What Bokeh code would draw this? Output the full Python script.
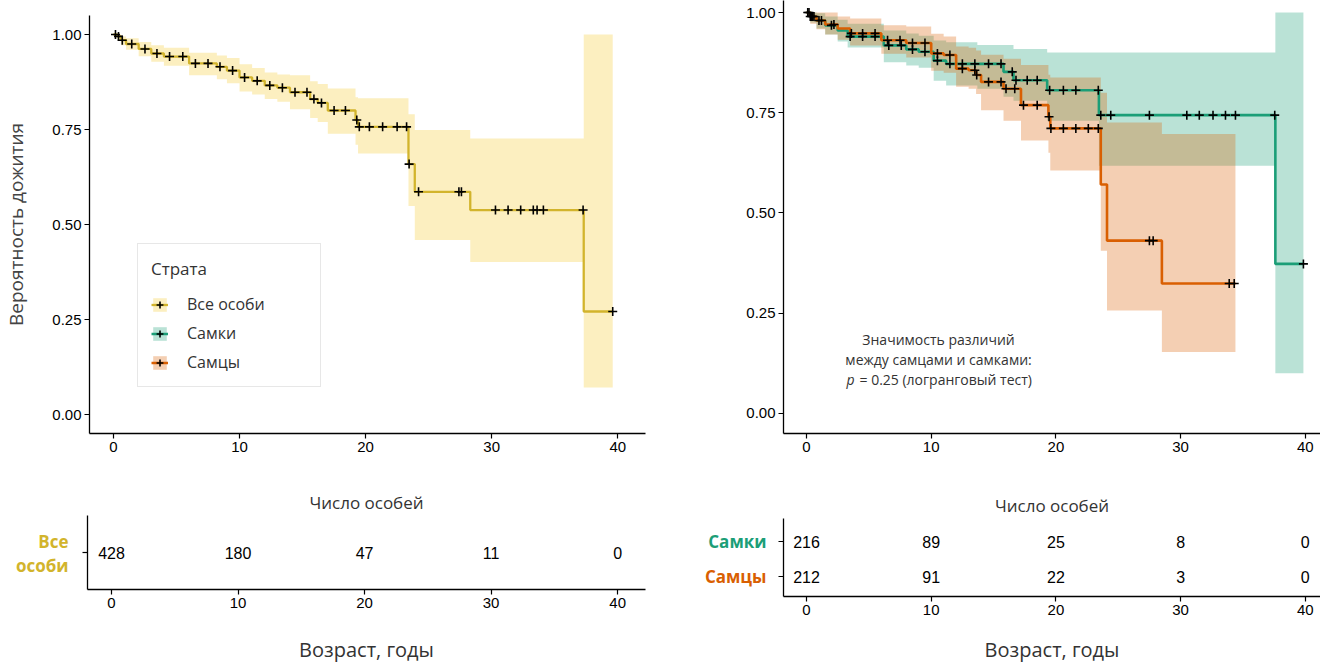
import numpy as np
from bokeh.plotting import figure
from bokeh.models import (Range1d, Legend, LegendItem, ColumnDataSource, FixedTicker, Label,
                          NumeralTickFormatter, CustomJSTickFormatter)
from bokeh.layouts import row, column
from bokeh.embed import file_html
from bokeh.resources import INLINE
from bokeh.core.properties import value

# ---------------- data ----------------
# All individuals (Все особи): step times, survival, CI upper, CI lower
all_t = [0, 0.3, 0.6, 1.0, 2.0, 3.0, 4.0, 6.0, 8.2, 9.0, 10.0, 11.0, 12.0, 13.0, 14.0,
         15.6, 16.2, 17.0, 19.2, 19.4, 23.4, 23.9, 28.3, 37.3]
all_s = [1.0, 0.995, 0.985, 0.975, 0.962, 0.950, 0.942, 0.924, 0.915, 0.905, 0.887, 0.878,
         0.866, 0.860, 0.848, 0.830, 0.820, 0.800, 0.775, 0.757, 0.659, 0.586, 0.538, 0.271]
all_up = [1.0, 1.0, 0.995, 0.99, 0.98, 0.972, 0.965, 0.952, 0.945, 0.938, 0.922, 0.912,
          0.90, 0.895, 0.893, 0.877, 0.87, 0.858, 0.835, 0.832, 0.79, 0.749, 0.726, 1.0]
all_lo = [1.0, 0.985, 0.972, 0.96, 0.943, 0.928, 0.918, 0.893, 0.882, 0.872, 0.85, 0.842,
          0.83, 0.823, 0.803, 0.78, 0.77, 0.739, 0.71, 0.687, 0.549, 0.459, 0.401, 0.071]
all_end = 39.6
all_cens = [0.16, 0.4, 0.7, 1.45, 2.5, 3.45, 4.45, 5.5, 6.5, 7.5, 8.45, 9.45, 10.4, 11.4,
            12.4, 13.4, 14.4, 15.35, 15.9, 16.5, 17.5, 18.4, 19.3, 19.5, 20.3, 21.35, 22.5,
            23.25, 23.45, 24.2, 27.4, 27.6, 30.3, 31.3, 32.3, 33.3, 33.6, 34.1, 37.25, 39.6]

# Females (Самки)
f_t = [0, 0.3, 0.8, 1.5, 2.5, 3.3, 6.2, 8.0, 9.0, 10.2, 11.2, 13.7, 15.8, 16.6, 19.3, 23.45, 37.6]
f_s = [1.0, 0.99, 0.98, 0.968, 0.955, 0.940, 0.918, 0.908, 0.902, 0.880, 0.872, 0.872,
       0.852, 0.831, 0.806, 0.744, 0.373]
f_up = [1.0, 1.0, 0.998, 0.99, 0.982, 0.972, 0.955, 0.948, 0.942, 0.93, 0.926, 0.919,
        0.919, 0.909, 0.90, 0.90, 1.0]
f_lo = [1.0, 0.975, 0.96, 0.945, 0.928, 0.913, 0.876, 0.868, 0.862, 0.83, 0.818, 0.81,
        0.79, 0.78, 0.73, 0.618, 0.10]
f_end = 39.85
f_cens = [0.1, 0.3, 0.5, 1.0, 2.0, 3.5, 4.5, 5.5, 6.6, 7.6, 8.5, 9.5, 10.5, 11.5, 12.5,
          13.5, 14.6, 15.6, 16.5, 16.8, 17.7, 18.5, 19.5, 20.6, 21.6, 23.4, 23.6, 24.4,
          27.5, 30.5, 31.5, 32.6, 33.6, 34.4, 37.55, 39.85]

# Males (Самцы)
m_t = [0, 0.3, 0.8, 1.5, 2.5, 3.5, 6.0, 8.0, 10.0, 11.0, 12.0, 13.0, 13.6, 14.0, 15.8,
       17.2, 19.4, 19.55, 23.6, 24.1, 28.5]
m_s = [1.0, 0.99, 0.98, 0.97, 0.96, 0.948, 0.931, 0.924, 0.898, 0.894, 0.860, 0.856,
       0.844, 0.827, 0.81, 0.769, 0.74, 0.711, 0.571, 0.431, 0.324]
m_up = [1.0, 1.0, 1.0, 1.0, 0.99, 0.985, 0.968, 0.965, 0.947, 0.94, 0.915, 0.912, 0.905,
        0.895, 0.885, 0.869, 0.845, 0.838, 0.80, 0.726, 0.697]
m_lo = [1.0, 0.972, 0.958, 0.945, 0.932, 0.918, 0.897, 0.888, 0.855, 0.85, 0.815, 0.81,
        0.797, 0.756, 0.73, 0.681, 0.65, 0.606, 0.406, 0.257, 0.153]
m_end = 34.4
m_cens = [0.2, 0.4, 0.6, 1.2, 2.2, 3.6, 4.5, 5.5, 6.5, 7.5, 8.5, 9.5, 10.5, 11.5, 12.5,
          13.5, 13.65, 14.6, 15.6, 16.0, 16.7, 17.4, 18.5, 19.45, 19.6, 20.6, 21.6, 22.6,
          23.4, 27.5, 27.8, 33.9, 34.3]

# Number at risk
risk_times = [0, 10, 20, 30, 40]
risk_all = [428, 180, 47, 11, 0]
risk_f = [216, 89, 25, 8, 0]
risk_m = [212, 91, 22, 3, 0]

x_ticks = [0, 10, 20, 30, 40]
y_ticks = [0.0, 0.25, 0.5, 0.75, 1.0]

# ---------------- styles ----------------
COL_ALL_LINE = "#D2B42C"
COL_ALL_FILL = "#FCEFC0"
COL_F = "#1B9E77"
COL_M = "#D95F02"
TXT = "#333333"
FONT = "Open Sans"
NUMFONT = "Liberation Sans"


def curve_source(t, s, up, lo, t_end):
    return ColumnDataSource(dict(x=list(t) + [t_end], s=list(s) + [s[-1]],
                                 u=list(up) + [up[-1]], l=list(lo) + [lo[-1]]))


def cens_y(t, s, cens):
    idx = np.searchsorted(np.array(t), np.array(cens), side="right") - 1
    return [s[i] for i in idx]


def base_style(p):
    p.xgrid.visible = False
    p.ygrid.visible = False
    p.outline_line_color = None
    p.background_fill_color = "white"
    p.border_fill_color = "white"


def style_axes(p):
    base_style(p)
    for ax in p.axis:
        ax.axis_line_color = "black"
        ax.axis_line_width = 1.3
        ax.major_tick_line_color = "black"
        ax.major_tick_line_width = 1.2
        ax.major_tick_out = 5
        ax.major_tick_in = 0
        ax.minor_tick_line_color = None
        ax.major_label_text_font = NUMFONT
        ax.major_label_text_font_size = "15px"
        ax.major_label_text_color = "black"
        ax.major_label_standoff = 3
    p.xaxis.ticker = FixedTicker(ticks=x_ticks)


def label(p, x, y, text, size, color=TXT, align="center", baseline="middle", style="normal"):
    p.add_layout(Label(x=x, y=y, text=text, text_font=FONT, text_font_size=size,
                       text_color=color, text_align=align, text_baseline=baseline,
                       text_font_style=style))


def cross(p, x, y):
    return p.scatter(x=x, y=y, marker="cross", size=9, line_color="black", line_width=1.6)


# ---------------- left survival plot ----------------
p1 = figure(width=660, height=463, x_range=Range1d(-1.9, 42.2), y_range=Range1d(-0.05, 1.05),
            output_backend="svg", toolbar_location=None,
            min_border_left=87, min_border_right=15, min_border_top=15, min_border_bottom=30)
style_axes(p1)
p1.yaxis.ticker = FixedTicker(ticks=y_ticks)
p1.yaxis.formatter = NumeralTickFormatter(format="0.00")
p1.yaxis.axis_label = "Вероятность дожития"
p1.yaxis.axis_label_text_font = FONT
p1.yaxis.axis_label_text_font_size = "19px"
p1.yaxis.axis_label_text_font_style = "normal"
p1.yaxis.axis_label_text_color = "#444444"
p1.yaxis.axis_label_standoff = 20

src_all = curve_source(all_t, all_s, all_up, all_lo, all_end)
band_all = p1.varea_step(x="x", y1="l", y2="u", step_mode="after", source=src_all,
                         fill_color=COL_ALL_FILL, fill_alpha=1.0)
line_all = p1.step(x="x", y="s", mode="after", source=src_all, line_color=COL_ALL_LINE,
                   line_width=2.3)
cens_all = cross(p1, all_cens, cens_y(all_t, all_s, all_cens))

# legend proxies for the sex strata (placed outside the visible range)
proxy_x = [100, 101]
fb = p1.varea(x=proxy_x, y1=[2, 2], y2=[3, 3], fill_color=COL_F, fill_alpha=0.3)
fl = p1.line(x=proxy_x, y=[2, 2], line_color=COL_F, line_width=2.5)
fc = cross(p1, proxy_x, [2, 2])
mb = p1.varea(x=proxy_x, y1=[2, 2], y2=[3, 3], fill_color=COL_M, fill_alpha=0.3)
ml = p1.line(x=proxy_x, y=[2, 2], line_color=COL_M, line_width=2.5)
mc = cross(p1, proxy_x, [2, 2])

legend = Legend(items=[LegendItem(label="Все особи", renderers=[band_all, line_all, cens_all]),
                       LegendItem(label="Самки", renderers=[fb, fl, fc]),
                       LegendItem(label="Самцы", renderers=[mb, ml, mc])],
                location=(48, 46), title="Страта")
legend.title_text_font = FONT
legend.title_text_font_size = "17px"
legend.title_text_font_style = "normal"
legend.title_text_color = TXT
legend.title_standoff = 13
legend.label_text_font = FONT
legend.label_text_font_size = "16px"
legend.label_text_color = TXT
legend.border_line_color = "#d0d0d0"
legend.border_line_width = 1
legend.background_fill_color = "white"
legend.padding = 13
legend.glyph_width = 17
legend.glyph_height = 17
legend.label_height = 17
legend.spacing = 7
legend.label_standoff = 19
legend.label_width = 120
p1.add_layout(legend)

# ---------------- right survival plot ----------------
p2 = figure(width=660, height=463, x_range=Range1d(-1.844, 41.22), y_range=Range1d(-0.05, 1.03),
            output_backend="svg", toolbar_location=None,
            min_border_left=123, min_border_right=0, min_border_top=0, min_border_bottom=30)
style_axes(p2)
p2.yaxis.ticker = FixedTicker(ticks=y_ticks)
p2.yaxis.formatter = NumeralTickFormatter(format="0.00")

src_f = curve_source(f_t, f_s, f_up, f_lo, f_end)
src_m = curve_source(m_t, m_s, m_up, m_lo, m_end)
p2.varea_step(x="x", y1="l", y2="u", step_mode="after", source=src_f,
              fill_color=COL_F, fill_alpha=0.3)
p2.varea_step(x="x", y1="l", y2="u", step_mode="after", source=src_m,
              fill_color=COL_M, fill_alpha=0.3)
p2.step(x="x", y="s", mode="after", source=src_f, line_color=COL_F, line_width=2.6)
p2.step(x="x", y="s", mode="after", source=src_m, line_color=COL_M, line_width=2.6)
cross(p2, f_cens, cens_y(f_t, f_s, f_cens))
cross(p2, m_cens, cens_y(m_t, m_s, m_cens))

label(p2, 10.59, 0.1845, "Значимость различий", "14px")
label(p2, 10.59, 0.1347, "между самцами и самками:", "14px")
label(p2, 3.21, 0.0848, "p", "14px", align="left", style="italic")
label(p2, 4.25, 0.0848, "= 0.25 (логранговый тест)", "14px", align="left")


# ---------------- risk tables ----------------
def risk_axes(r, standoff):
    style_axes(r)
    r.yaxis.formatter = CustomJSTickFormatter(code="return '';")
    r.xaxis.axis_label = "Возраст, годы"
    r.xaxis.axis_label_text_font = FONT
    r.xaxis.axis_label_text_font_size = "20px"
    r.xaxis.axis_label_text_font_style = "normal"
    r.xaxis.axis_label_text_color = TXT
    r.xaxis.axis_label_standoff = standoff
    r.title.text = "Число особей"
    r.title.align = "center"
    r.title.text_font = FONT
    r.title.text_font_size = "17px"
    r.title.text_font_style = "normal"
    r.title.text_color = TXT
    r.title.standoff = 4


def risk_row(r, y, counts):
    r.text(x=risk_times, y=[y] * len(risk_times), text=[str(v) for v in counts],
           text_align="center", text_baseline="middle", text_font=value(NUMFONT),
           text_font_size="16px", text_color="black")


def strata_fig(width, x0, y_range, top, bottom, texts):
    f = figure(width=width, height=202, x_range=Range1d(x0, x0 + width), y_range=y_range,
               output_backend="svg", toolbar_location=None, min_border_left=0,
               min_border_right=0, min_border_top=top, min_border_bottom=bottom)
    base_style(f)
    f.axis.visible = False
    for (x, y, t, c) in texts:
        f.text(x=[x], y=[y], text=[t], text_align="right", text_baseline="middle",
               text_font=value(FONT), text_font_style="bold", text_font_size="17px",
               text_color=c)
    return f


r1 = figure(width=581, height=202, x_range=Range1d(-1.9, 42.2), y_range=Range1d(0.5, 1.5),
            output_backend="svg", toolbar_location=None,
            min_border_left=8, min_border_right=15, min_border_top=52, min_border_bottom=74)
risk_axes(r1, 25)
r1.yaxis.ticker = FixedTicker(ticks=[1])
risk_row(r1, 1, risk_all)
lab1 = strata_fig(79, 0, Range1d(0.5, 1.5), 52, 74,
                  [(68, 1.145, "Все", COL_ALL_LINE), (68, 0.829, "особи", COL_ALL_LINE)])

r2 = figure(width=545, height=202, x_range=Range1d(-1.844, 41.22), y_range=Range1d(0.444, 2.667),
            output_backend="svg", toolbar_location=None,
            min_border_left=8, min_border_right=0, min_border_top=55, min_border_bottom=67)
risk_axes(r2, 18)
r2.yaxis.ticker = FixedTicker(ticks=[1, 2])
risk_row(r2, 2, risk_f)
risk_row(r2, 1, risk_m)
lab2 = strata_fig(115, 660, Range1d(0.444, 2.667), 55, 67,
                  [(766, 2, "Самки", COL_F), (766, 1, "Самцы", COL_M)])

layout = row(column(p1, row(lab1, r1)), column(p2, row(lab2, r2)))
open("out.html", "w").write(file_html(layout, INLINE))
